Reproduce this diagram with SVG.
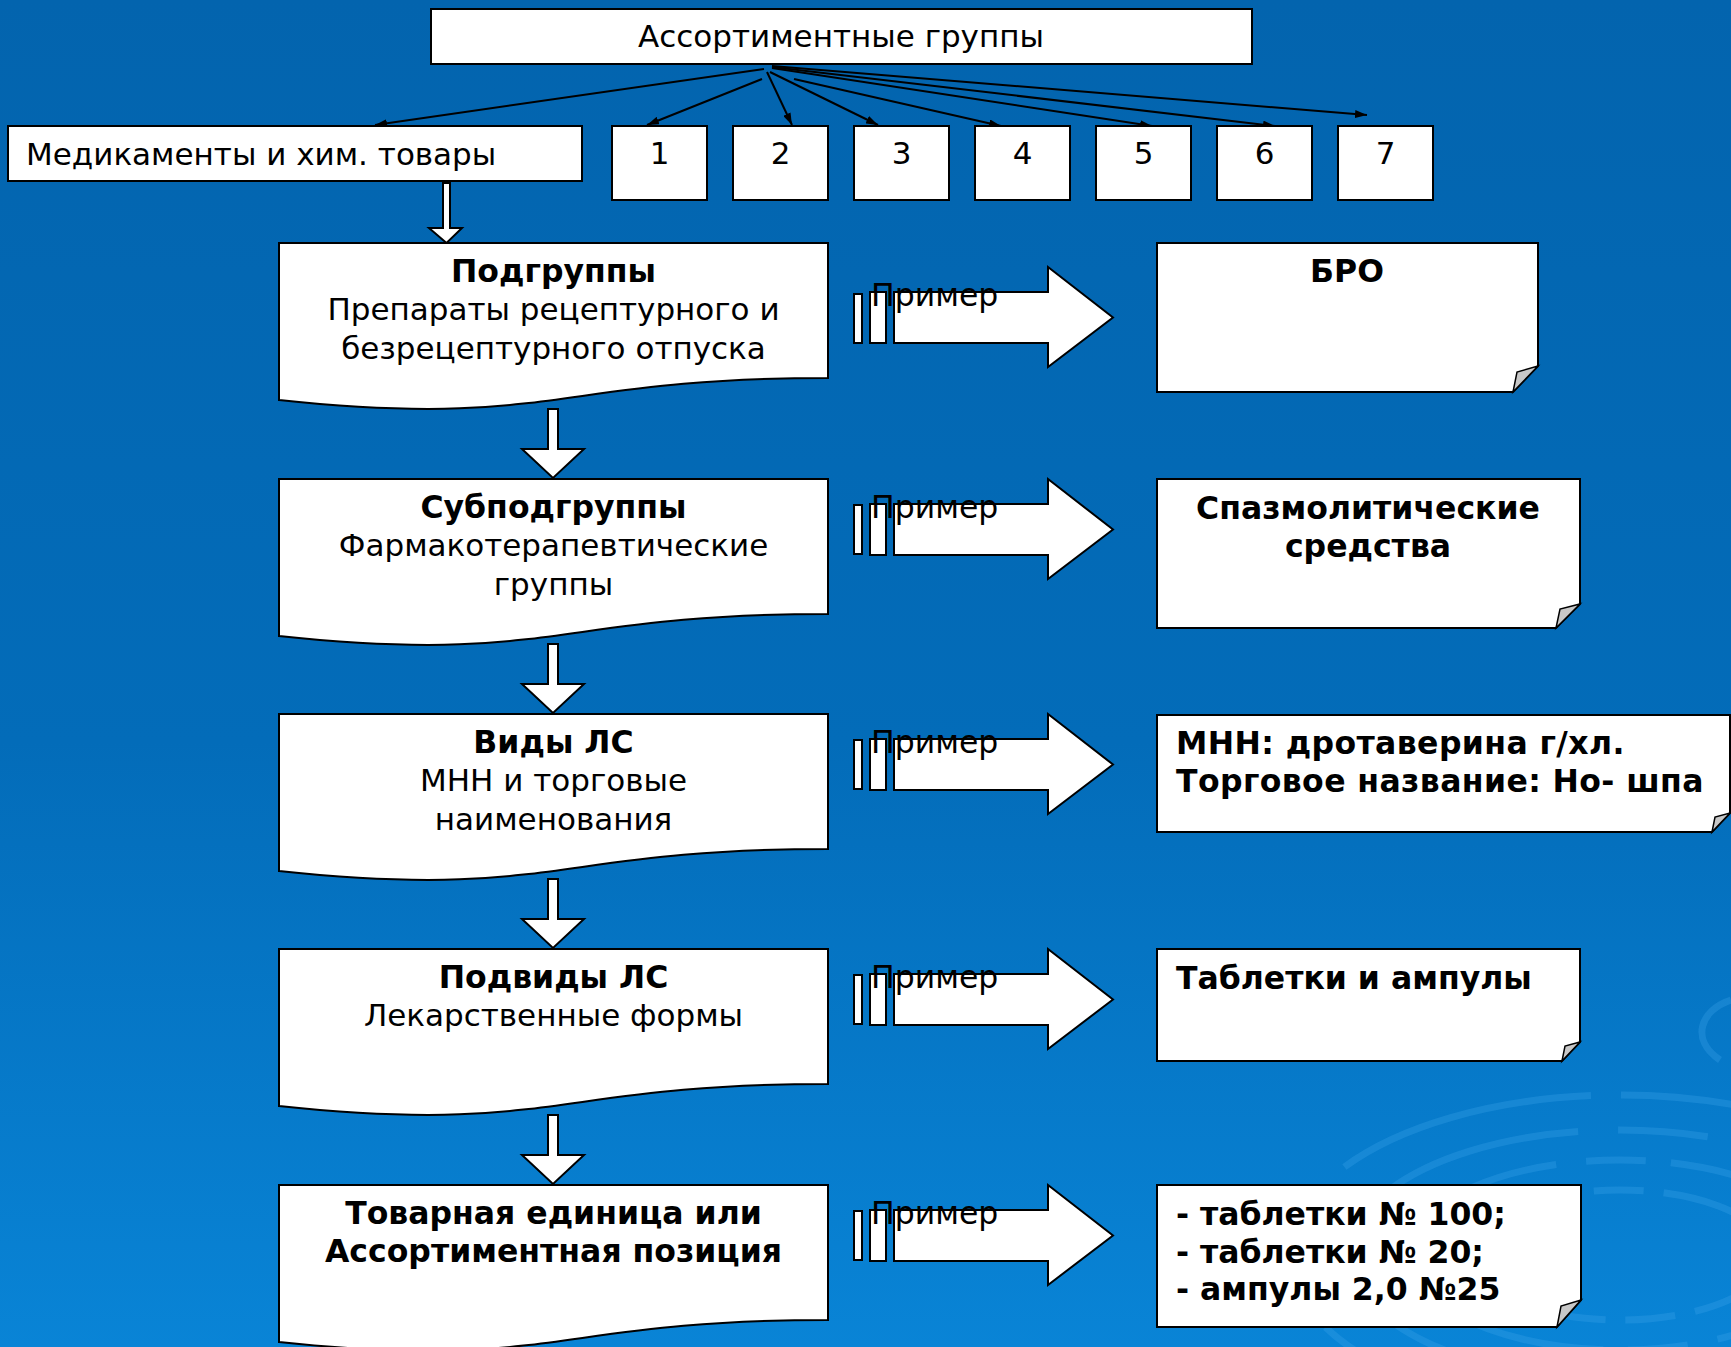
<svg xmlns="http://www.w3.org/2000/svg" width="1731" height="1347" viewBox="0 0 1731 1347">
<defs>
<linearGradient id="bg" x1="0" y1="0" x2="0" y2="1">
<stop offset="0" stop-color="#0364AE"/>
<stop offset="0.55" stop-color="#036CB9"/>
<stop offset="1" stop-color="#0984D6"/>
</linearGradient>
<marker id="ah" viewBox="0 0 12 8" refX="12" refY="4" markerWidth="12" markerHeight="8" markerUnits="userSpaceOnUse" orient="auto">
<path d="M0,0 L12,4 L0,8 Z" fill="#000"/>
</marker>
<style>
.box{fill:#fff;stroke:#000;stroke-width:2}
.hol{fill:#fff;stroke:#000;stroke-width:2;stroke-linejoin:miter}
.fold{fill:#C8C8C8;stroke:#000;stroke-width:1.5}
.ln{stroke:#000;stroke-width:2;fill:none}
.t{font-family:"DejaVu Sans","Liberation Sans",sans-serif;fill:#000}
.c{text-anchor:middle}
.n{font-size:31px}
.bl{font-size:31.5px;font-weight:bold}
.pr{font-size:31.5px}
.ring{fill:none;stroke:#3FA4EC;stroke-opacity:0.3;stroke-width:7}
</style>
</defs>
<rect width="1731" height="1347" fill="url(#bg)"/>
<g id="decor">
<ellipse class="ring" cx="1620" cy="1255" rx="330" ry="160" stroke-dasharray="260 30 120 40"/>
<ellipse class="ring" cx="1620" cy="1255" rx="270" ry="125" stroke-dasharray="200 40 90 30"/>
<ellipse class="ring" cx="1620" cy="1255" rx="210" ry="95" stroke-dasharray="150 30 60 25"/>
<ellipse class="ring" cx="1620" cy="1255" rx="150" ry="65" stroke-dasharray="100 20 50 20"/>
<path class="ring" d="M1731,1000 C1700,1010 1690,1040 1720,1060"/>
</g>

<g id="connectors">
<line class="ln" x1="764" y1="69" x2="375" y2="125" marker-end="url(#ah)"/>
<line class="ln" x1="762" y1="79" x2="647" y2="125" marker-end="url(#ah)"/>
<line class="ln" x1="767" y1="72" x2="792" y2="125" marker-end="url(#ah)"/>
<line class="ln" x1="770" y1="72" x2="878" y2="125" marker-end="url(#ah)"/>
<line class="ln" x1="794" y1="79" x2="1001" y2="126" marker-end="url(#ah)"/>
<line class="ln" x1="772" y1="68" x2="1152" y2="126" marker-end="url(#ah)"/>
<line class="ln" x1="772" y1="67" x2="1275" y2="126" marker-end="url(#ah)"/>
<line class="ln" x1="772" y1="66" x2="1367" y2="115" marker-end="url(#ah)"/>
<polygon class="hol" points="443,183 450,183 450,228 462,228 446.5,243 429,228 443,228"/>
<polygon class="hol" points="548,409 558,409 558,449 584,449 553,478 522,449 548,449"/>
<polygon class="hol" points="548,644 558,644 558,684 584,684 553,713 522,684 548,684"/>
<polygon class="hol" points="548,879 558,879 558,919 584,919 553,948 522,919 548,919"/>
<polygon class="hol" points="548,1115 558,1115 558,1155 584,1155 553,1184 522,1155 548,1155"/>
</g>

<g id="n-top">
<rect class="box" x="431" y="9" width="821" height="55"/>
<text class="t c" x="841" y="47" font-size="31">Ассортиментные группы</text>
</g>
<g id="n-med">
<rect class="box" x="8" y="126" width="574" height="55"/>
<text class="t" x="26" y="165" font-size="31">Медикаменты и хим. товары</text>
</g>
<g id="n-1"><rect class="box" x="612" y="126" width="95" height="74"/><text class="t c" x="659.5" y="164" font-size="31">1</text></g>
<g id="n-2"><rect class="box" x="733" y="126" width="95" height="74"/><text class="t c" x="780.5" y="164" font-size="31">2</text></g>
<g id="n-3"><rect class="box" x="854" y="126" width="95" height="74"/><text class="t c" x="901.5" y="164" font-size="31">3</text></g>
<g id="n-4"><rect class="box" x="975" y="126" width="95" height="74"/><text class="t c" x="1022.5" y="164" font-size="31">4</text></g>
<g id="n-5"><rect class="box" x="1096" y="126" width="95" height="74"/><text class="t c" x="1143.5" y="164" font-size="31">5</text></g>
<g id="n-6"><rect class="box" x="1217" y="126" width="95" height="74"/><text class="t c" x="1264.5" y="164" font-size="31">6</text></g>
<g id="n-7"><rect class="box" x="1338" y="126" width="95" height="74"/><text class="t c" x="1385.5" y="164" font-size="31">7</text></g>

<g id="n-podgr">
<path class="box" d="M279,243 H828 V378 C553.5,378 553.5,429 279,400 Z"/>
<text class="t c bl" x="553.5" y="282">Подгруппы</text>
<text class="t c n" x="553.5" y="320">Препараты рецептурного и</text>
<text class="t c n" x="553.5" y="358.5">безрецептурного отпуска</text>
</g>
<g id="n-subpodgr">
<path class="box" d="M279,479 H828 V614 C553.5,614 553.5,665 279,636 Z"/>
<text class="t c bl" x="553.5" y="518">Субподгруппы</text>
<text class="t c n" x="553.5" y="556">Фармакотерапевтические</text>
<text class="t c n" x="553.5" y="594.5">группы</text>
</g>
<g id="n-vidy">
<path class="box" d="M279,714 H828 V849 C553.5,849 553.5,900 279,871 Z"/>
<text class="t c bl" x="553.5" y="753">Виды ЛС</text>
<text class="t c n" x="553.5" y="791">МНН и торговые</text>
<text class="t c n" x="553.5" y="829.5">наименования</text>
</g>
<g id="n-podvidy">
<path class="box" d="M279,949 H828 V1084 C553.5,1084 553.5,1135 279,1106 Z"/>
<text class="t c bl" x="553.5" y="988">Подвиды ЛС</text>
<text class="t c n" x="553.5" y="1026">Лекарственные формы</text>
</g>
<g id="n-tovar">
<path class="box" d="M279,1185 H828 V1320 C553.5,1320 553.5,1371 279,1342 Z"/>
<text class="t c bl" x="553.5" y="1223.5">Товарная единица или</text>
<text class="t c bl" x="553.5" y="1261.5">Ассортиментная позиция</text>
</g>

<g id="ex-1">
<rect class="box" x="854" y="294" width="8" height="49"/>
<rect class="box" x="870" y="292" width="16" height="51"/>
<polygon class="hol" points="894,292 1048,292 1048,267 1113,317.5 1048,367 1048,343 894,343"/>
<text class="t pr" x="871" y="306">Пример</text>
</g>
<g id="ex-2">
<rect class="box" x="854" y="505" width="8" height="49"/>
<rect class="box" x="870" y="504" width="16" height="51"/>
<polygon class="hol" points="894,504 1048,504 1048,479 1113,529.5 1048,579 1048,555 894,555"/>
<text class="t pr" x="871" y="518">Пример</text>
</g>
<g id="ex-3">
<rect class="box" x="854" y="740" width="8" height="49"/>
<rect class="box" x="870" y="739" width="16" height="51"/>
<polygon class="hol" points="894,739 1048,739 1048,714 1113,764.5 1048,814 1048,790 894,790"/>
<text class="t pr" x="871" y="753">Пример</text>
</g>
<g id="ex-4">
<rect class="box" x="854" y="975" width="8" height="49"/>
<rect class="box" x="870" y="974" width="16" height="51"/>
<polygon class="hol" points="894,974 1048,974 1048,949 1113,999.5 1048,1049 1048,1025 894,1025"/>
<text class="t pr" x="871" y="988">Пример</text>
</g>
<g id="ex-5">
<rect class="box" x="854" y="1211" width="8" height="49"/>
<rect class="box" x="870" y="1210" width="16" height="51"/>
<polygon class="hol" points="894,1210 1048,1210 1048,1185 1113,1235.5 1048,1285 1048,1261 894,1261"/>
<text class="t pr" x="871" y="1224">Пример</text>
</g>

<g id="note-bro">
<path class="box" d="M1157,243 H1538 V366 L1513,392 H1157 Z"/>
<polygon class="fold" points="1513,392 1517,372 1538,366"/>
<text class="t c bl" x="1347" y="282">БРО</text>
</g>
<g id="note-spazm">
<path class="box" d="M1157,479 H1580 V604 L1556,628 H1157 Z"/>
<polygon class="fold" points="1556,628 1560,609 1580,604"/>
<text class="t c bl" x="1368" y="518.5">Спазмолитические</text>
<text class="t c bl" x="1368" y="557">средства</text>
</g>
<g id="note-mnn">
<path class="box" d="M1157,715 H1730 V813 L1712,832 H1157 Z"/>
<polygon class="fold" points="1712,832 1715,817 1730,813"/>
<text class="t bl" x="1176" y="753.5" letter-spacing="0.4">МНН: дротаверина г/хл.</text>
<text class="t bl" x="1176" y="792" letter-spacing="0.4">Торговое название: Но- шпа</text>
</g>
<g id="note-tabl">
<path class="box" d="M1157,949 H1580 V1042 L1562,1061 H1157 Z"/>
<polygon class="fold" points="1562,1061 1565,1046 1580,1042"/>
<text class="t bl" x="1176" y="989">Таблетки и ампулы</text>
</g>
<g id="note-list">
<path class="box" d="M1157,1185 H1581 V1300 L1557,1327 H1157 Z"/>
<polygon class="fold" points="1557,1327 1561,1306 1581,1300"/>
<text class="t bl" x="1176" y="1225">- таблетки № 100;</text>
<text class="t bl" x="1176" y="1262.5">- таблетки № 20;</text>
<text class="t bl" x="1176" y="1300">- ампулы 2,0 №25</text>
</g>
</svg>
